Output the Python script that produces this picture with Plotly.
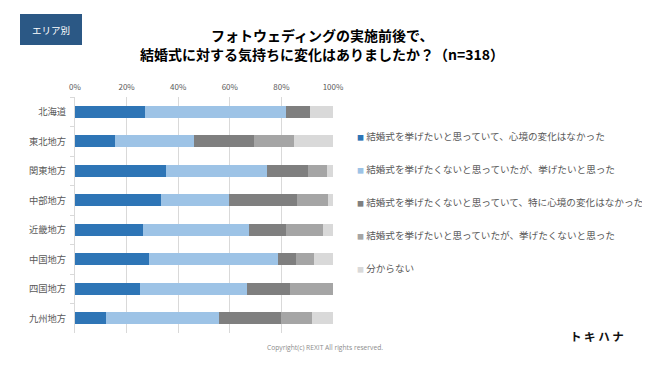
import plotly.graph_objects as go

regions = ["北海道", "東北地方", "関東地方", "中部地方", "近畿地方", "中国地方", "四国地方", "九州地方"]
series_names = [
    "結婚式を挙げたいと思っていて、心境の変化はなかった",
    "結婚式を挙げたくないと思っていたが、挙げたいと思った",
    "結婚式を挙げたくないと思っていて、特に心境の変化はなかった",
    "結婚式を挙げたいと思っていたが、挙げたくないと思った",
    "分からない",
]
s1 = [27.3, 15.4, 35.4, 33.2, 26.5, 28.6, 25.0, 12.0]
s2 = [54.5, 30.8, 39.1, 26.4, 40.9, 50.0, 41.7, 44.0]
s3 = [9.1, 23.1, 15.8, 26.3, 14.4, 7.1, 16.7, 24.0]
s4 = [0.0, 15.4, 7.3, 12.0, 14.3, 7.1, 16.6, 12.0]
s5 = [9.1, 15.3, 2.4, 2.1, 3.9, 7.2, 0.0, 8.0]
colors = ["#2E75B6", "#9DC3E6", "#7F7F7F", "#A5A5A5", "#D9D9D9"]
x_ticks = [0, 20, 40, 60, 80, 100]

W, H = 650, 366
OFF = 8  # page body margin offset
L, R, T, B = 75, 333, 97, 333
def px(x):
    return (x - OFF) / W
def py(y):
    return (H - (y - OFF)) / H

FONT = "Noto Sans CJK JP"
fig = go.Figure()
for i, (name, vals) in enumerate(zip(series_names, [s1, s2, s3, s4, s5])):
    fig.add_trace(go.Bar(
        y=regions, x=vals, name=name, orientation="h",
        marker=dict(color=colors[i], line=dict(width=0)),
        showlegend=False,
    ))

def ann(text, x, y, size, color, family=FONT, xanchor="center"):
    return dict(text=text, xref="paper", yref="paper", x=px(x), y=py(y),
                xanchor=xanchor, yanchor="middle", showarrow=False,
                font=dict(size=size, color=color, family=family))

# legend drawn as text with colored square glyphs
legend_y = [136, 169, 202, 235, 268]
annotations = []
for name, c, yy in zip(series_names, colors, legend_y):
    annotations.append(ann(
        f'<span style="color:{c};font-size:7px">■</span> {name}',
        355, yy, 9.6, "#595959", xanchor="left"))

annotations += [
    ann("エリア別", 51, 29.5, 9.5, "white"),
    ann("<b>フォトウェディングの実施前後で、</b>", 322, 35, 14, "#000000"),
    ann("<b>結婚式に対する気持ちに変化はありましたか？（n=318）</b>", 322, 54, 14, "#000000"),
    ann("Copyright(c) REXIT All rights reserved.", 325, 347, 6.7, "#8C8C8C", family="Open Sans"),
    ann("<b>ト キ ハ ナ</b>", 597, 336, 11.5, "#111111"),
]

fig.update_layout(
    barmode="stack", bargap=0.6,
    width=W, height=H,
    margin=dict(l=0, r=0, t=0, b=0, autoexpand=False),
    plot_bgcolor="white", paper_bgcolor="white",
    font=dict(family=FONT, color="#595959"),
    showlegend=False,
    xaxis=dict(
        domain=[(L - OFF) / W, (R - OFF) / W],
        side="top", range=[0, 100], tickvals=x_ticks,
        ticktext=[f"{v}%" for v in x_ticks],
        showgrid=True, gridcolor="#D9D9D9", gridwidth=1,
        zeroline=False, showline=False, ticks="",
        tickfont=dict(size=8, color="#595959"),
        ticklabelstandoff=4, automargin=False,
    ),
    yaxis=dict(
        domain=[(H - (B - OFF)) / H, (H - (T - OFF)) / H],
        autorange="reversed", showgrid=False, showline=True,
        linecolor="#D9D9D9", ticks="outside", tickson="boundaries",
        ticklen=4, tickcolor="#D9D9D9",
        tickfont=dict(size=9.3, color="#595959"),
        ticklabelstandoff=6, automargin=False,
    ),
    shapes=[dict(
        type="rect", xref="paper", yref="paper",
        x0=px(20), x1=px(82), y0=py(45), y1=py(14),
        fillcolor="#2B5885", line=dict(width=0),
    )],
    annotations=annotations,
)
fig.write_html("out.html")
